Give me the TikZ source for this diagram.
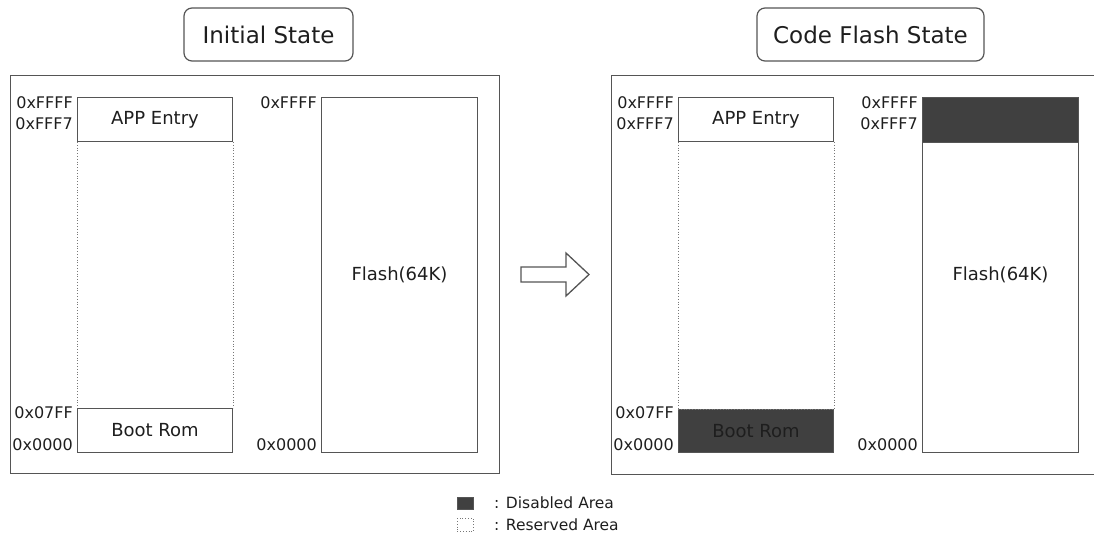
\documentclass[tikz,border=0pt]{standalone}
\usepackage{fontspec}
\setmainfont{DejaVu Sans}
\definecolor{linec}{HTML}{555555}
\definecolor{darkfill}{HTML}{404040}
\definecolor{txt}{HTML}{1E1E1E}
\begin{document}
\begin{tikzpicture}[x=1pt,y=-1pt,
  frame/.style={draw=linec, line width=1.3pt, inner sep=0pt, anchor=north west},
  titlebox/.style={draw=linec, line width=1.2pt, rounded corners=8pt, inner sep=0pt, font=\fontsize{23}{27}\selectfont, text=txt},
  membox/.style={draw=linec, line width=1pt, inner sep=0pt, anchor=north west, font=\fontsize{18}{22}\selectfont, text=txt},
  disabled/.style={membox, fill=darkfill},
  addr/.style={anchor=east, inner sep=0pt, font=\fontsize{16}{19}\selectfont, text=txt},
  resv/.style={draw=linec!80, line width=0.8pt, dotted},
  legtext/.style={anchor=west, inner sep=0pt, font=\fontsize{15.5}{18}\selectfont, text=txt},
  blockarrow/.style={draw=linec, line width=1.3pt, fill=white, line join=miter}
]
\useasboundingbox (0,0) rectangle (1094,534);
\clip (0,0) rectangle (1094,534);

% titles
\node[titlebox, minimum width=169, minimum height=53] (t1) at (268.5,34.5) {Initial State};
\node[titlebox, minimum width=227, minimum height=53] (t2) at (870.5,34.5) {Code Flash State};

% frames
\node[frame, minimum width=489, minimum height=398] (f1) at (10,75) {};
\node[frame, minimum width=489, minimum height=399] (f2) at (611,75) {};

% ---------- left panel ----------
\node[membox, minimum width=155, minimum height=44] (app1) at (77,97) {APP Entry};
\node[membox, minimum width=155, minimum height=44] (boot1) at (77,408) {Boot Rom};
\draw[resv] (app1.south west) -- (boot1.north west);
\draw[resv] (app1.south east) -- (boot1.north east);
\node[membox, minimum width=156, minimum height=355] (fl1) at (321,97) {Flash(64K)};

\node[addr] (a1) at (73,103) {0xFFFF};
\node[addr] (a2) at (73,124) {0xFFF7};
\node[addr] (a3) at (73,413) {0x07FF};
\node[addr] (a4) at (73,445) {0x0000};
\node[addr] (a5) at (317,103) {0xFFFF};
\node[addr] (a6) at (317,445) {0x0000};

% ---------- arrow ----------
\draw[blockarrow] (521,267) -- (566,267) -- (566,253) -- (589,274.5) -- (566,296) -- (566,282) -- (521,282) -- cycle;

% ---------- right panel ----------
\node[membox, minimum width=155, minimum height=44] (app2) at (678,97) {APP Entry};
\node[disabled, minimum width=155, minimum height=43] (boot2) at (678,409) {Boot Rom};
\draw[resv] (app2.south west) -- (boot2.north west);
\draw[resv] (app2.south east) -- (boot2.north east);
\draw[resv] (boot2.north west) -- (boot2.north east);
\node[membox, minimum width=156, minimum height=355] (fl2) at (922,97) {};
\node[disabled, minimum width=156, minimum height=45] (dis2) at (922,97) {};
\node[txt, font=\fontsize{18}{22}\selectfont, inner sep=0pt] (fl2t) at (fl2.center) {Flash(64K)};

\node[addr] (b1) at (674,103) {0xFFFF};
\node[addr] (b2) at (674,124) {0xFFF7};
\node[addr] (b3) at (674,413) {0x07FF};
\node[addr] (b4) at (674,445) {0x0000};
\node[addr] (b5) at (918,103) {0xFFFF};
\node[addr] (b6) at (918,124) {0xFFF7};
\node[addr] (b7) at (918,445) {0x0000};

% ---------- legend ----------
\node[draw=linec, line width=0.8pt, fill=darkfill, inner sep=0pt, minimum width=16, minimum height=12, anchor=north west] (lg1) at (457,497) {};
\node[resv, inner sep=0pt, minimum width=16, minimum height=13, anchor=north west] (lg2) at (457,518) {};
\node[legtext] (lt1) at (494,503) {: Disabled Area};
\node[legtext] (lt2) at (494,525) {: Reserved Area};
\end{tikzpicture}
\end{document}
